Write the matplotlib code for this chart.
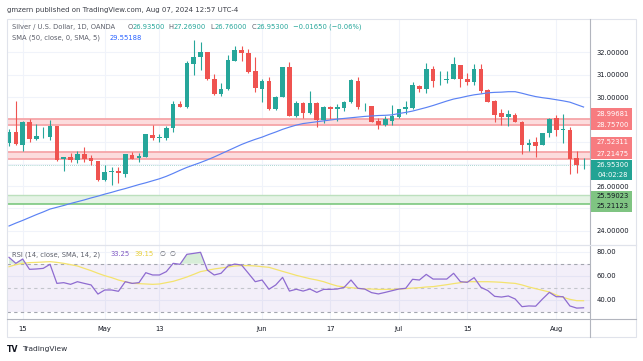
import numpy as np
import pandas as pd
import matplotlib
matplotlib.use("Agg")
import matplotlib.pyplot as plt
from matplotlib.patches import Rectangle

plt.rcParams['font.family'] = ['DejaVu Sans']

# ---------------- data ----------------
dates = pd.bdate_range("2024-04-11", "2024-08-07")

opens = [27.92, 28.45, 27.85, 28.88, 28.10, 28.24, 28.22, 28.70, 27.20, 27.31,
         27.17, 27.44, 27.25, 27.13, 26.26, 26.62, 26.68, 26.55, 27.40, 27.25,
         27.32, 28.30, 28.18, 28.15, 28.60, 29.69, 29.57, 31.48, 31.81, 32.01,
         30.83, 30.12, 30.35, 31.63, 32.11, 31.98, 31.17, 30.36, 30.72, 29.46,
         30.02, 31.35, 29.16, 29.75, 29.27, 29.75, 28.97, 29.57, 29.48, 29.52,
         29.76, 30.72, 29.54, 29.60, 28.94, 28.74, 28.92, 29.09, 29.45, 29.49,
         30.50, 30.38, 31.24, 30.75, 30.78, 30.81, 31.44, 30.80, 30.66, 31.26,
         30.32, 29.84, 29.27, 29.12, 29.19, 28.89, 27.85, 27.98, 27.85, 28.40,
         29.04, 28.53, 28.52, 27.25, 26.935]
highs = [28.55, 29.82, 28.94, 29.03, 28.77, 28.65, 28.97, 28.72, 27.32, 27.47,
         27.58, 27.74, 27.40, 27.14, 26.96, 26.87, 26.87, 27.45, 27.52, 27.47,
         28.34, 28.74, 28.34, 28.71, 29.82, 29.84, 31.62, 32.56, 32.49, 32.02,
         31.02, 30.62, 31.87, 32.31, 32.31, 32.17, 31.78, 30.80, 30.92, 30.05,
         31.36, 31.56, 29.82, 29.79, 30.27, 29.76, 29.60, 29.60, 29.69, 29.84,
         30.81, 30.89, 29.75, 29.61, 29.04, 29.15, 29.64, 29.46, 29.84, 30.66,
         30.53, 31.51, 31.41, 31.18, 31.17, 31.78, 31.45, 31.09, 31.47, 31.47,
         30.35, 29.87, 29.46, 29.42, 29.27, 28.94, 28.10, 28.22, 28.40, 29.04,
         29.19, 29.24, 28.67, 27.58, 27.269]
lows = [27.80, 27.85, 27.59, 27.98, 28.08, 28.18, 28.07, 27.14, 26.66, 27.10,
        27.02, 27.10, 26.95, 26.25, 26.24, 26.04, 26.13, 26.42, 27.22, 27.07,
        27.29, 28.07, 28.00, 28.07, 28.45, 29.54, 29.49, 30.99, 31.21, 30.77,
        30.09, 30.06, 30.32, 31.63, 31.62, 31.06, 30.21, 29.79, 29.42, 29.42,
        30.01, 29.15, 29.12, 29.04, 29.22, 28.67, 28.85, 29.00, 28.92, 29.37,
        29.75, 29.46, 29.39, 28.88, 28.57, 28.70, 28.74, 29.04, 29.22, 29.46,
        30.23, 30.17, 30.47, 30.54, 30.62, 30.80, 30.47, 30.54, 30.54, 30.17,
        29.76, 28.89, 28.74, 28.70, 28.88, 27.44, 27.59, 27.32, 27.85, 28.22,
        28.25, 27.92, 26.54, 26.60, 26.76]
closes = [28.45, 27.88, 28.88, 28.10, 28.25, 28.27, 28.70, 27.17, 27.31, 27.16,
          27.44, 27.23, 27.13, 26.26, 26.62, 26.68, 26.57, 27.44, 27.23, 27.35,
          28.33, 28.15, 28.20, 28.62, 29.69, 29.57, 31.51, 31.81, 32.01, 30.80,
          30.12, 30.36, 31.65, 32.11, 31.96, 31.14, 30.39, 30.72, 29.46, 30.02,
          31.35, 29.16, 29.75, 29.27, 29.75, 28.97, 29.57, 29.46, 29.54, 29.78,
          30.77, 29.54, 29.56, 28.89, 28.74, 29.00, 29.15, 29.45, 29.54, 30.53,
          30.38, 31.24, 30.74, 30.77, 30.80, 31.47, 30.80, 30.69, 31.26, 30.27,
          29.79, 29.19, 29.12, 29.24, 28.89, 27.85, 27.95, 27.82, 28.37, 29.00,
          28.52, 28.55, 27.23, 26.95, 26.953]
sma50 = [24.21, 24.34, 24.46, 24.59, 24.72, 24.84, 24.97, 25.05, 25.13, 25.22,
         25.30, 25.38, 25.47, 25.55, 25.64, 25.72, 25.81, 25.89, 25.98, 26.07,
         26.15, 26.24, 26.33, 26.44, 26.57, 26.71, 26.84, 26.95, 27.06, 27.18,
         27.31, 27.45, 27.59, 27.73, 27.87, 27.99, 28.10, 28.20, 28.32, 28.43,
         28.55, 28.65, 28.74, 28.81, 28.85, 28.89, 28.93, 28.97, 29.01, 29.04,
         29.07, 29.10, 29.13, 29.15, 29.17, 29.18, 29.20, 29.26, 29.31, 29.37,
         29.45, 29.53, 29.62, 29.72, 29.82, 29.91, 29.97, 30.04, 30.10, 30.14,
         30.19, 30.21, 30.22, 30.24, 30.24, 30.17, 30.09, 30.02, 29.97, 29.93,
         29.88, 29.83, 29.77, 29.66, 29.55188]
rsi = [75.3, 70.3, 73.9, 65.3, 65.6, 66.1, 69.5, 53.6, 54.2, 52.8,
       55.0, 53.6, 52.3, 44.7, 48.1, 48.1, 47.0, 55.0, 53.6, 54.2,
       62.5, 60.6, 60.6, 63.4, 70.3, 69.5, 77.8, 78.6, 79.5, 64.7,
       60.6, 62.0, 68.1, 69.7, 68.9, 62.0, 55.0, 56.4, 48.7, 52.3,
       58.6, 47.2, 48.7, 47.2, 48.9, 46.1, 48.6, 48.6, 48.9, 50.3,
       56.4, 49.5, 48.9, 45.9, 44.8, 46.1, 47.5, 48.9, 49.5, 57.0,
       56.4, 61.1, 57.2, 57.2, 57.2, 62.0, 55.0, 54.5, 58.4, 50.3,
       47.6, 42.8, 42.2, 43.1, 40.6, 34.2, 34.8, 34.6, 40.6, 46.1,
       42.5, 42.5, 34.8, 33.0, 33.25]
rsi_ma = [67.5, 69.2, 70.3, 70.9, 71.1, 71.4, 71.7, 71.1, 70.3, 69.2,
          68.1, 66.1, 64.2, 62.0, 60.0, 58.4, 56.4, 55.0, 53.6, 53.4,
          53.1, 52.8, 53.1, 54.2, 55.3, 57.0, 58.9, 61.1, 63.4, 64.5,
          65.6, 66.4, 67.2, 68.1, 68.4, 68.4, 68.1, 67.5, 67.0, 65.3,
          63.6, 62.0, 60.3, 58.9, 57.5, 56.4, 55.0, 53.1, 51.4, 50.6,
          50.0, 49.5, 48.9, 48.9, 48.6, 48.6, 48.6, 48.9, 49.2, 49.7,
          50.0, 50.6, 50.9, 51.7, 52.5, 53.4, 54.2, 55.0, 55.0, 55.0,
          55.0, 54.8, 54.5, 54.0, 53.6, 52.3, 50.6, 49.2, 47.8, 46.4,
          43.9, 42.0, 40.3, 39.2, 39.15]

tick_dates = ["2024-04-15", "2024-05-01", "2024-05-13", "2024-06-03",
              "2024-06-17", "2024-07-01", "2024-07-15", "2024-08-01"]
tick_labels = ["15", "May", "13", "Jun", "17", "Jul", "15", "Aug"]

price_ticks = [24, 25, 26, 27, 28, 29, 30, 31, 32]
price_tick_labels = ["24.00000", "", "26.00000", "", "", "", "30.00000", "31.00000", "32.00000"]

resist_upper = (28.75700, 28.99681)
resist_lower = (27.21475, 27.52311)
support_zone = (25.21123, 25.59023)
last_price = 26.95300
countdown = "04:02:28"

rsi_ticks = [40, 60, 80]

# ---------------- figure ----------------
W, H = 643, 361
fig = plt.figure(figsize=(W / 100, H / 100), dpi=100)
fig.patch.set_facecolor("white")


def rect(x0, y0, x1, y1):
    return [x0 / W, 1 - y1 / H, (x1 - x0) / W, (y1 - y0) / H]


UP, DOWN = "#26A69A", "#EF5350"
GRID = "#F0F3FA"
TXT = "#131722"

x = np.arange(len(dates))
O = np.array(opens); Hh = np.array(highs); L = np.array(lows); C = np.array(closes)
tick_idx = [dates.get_loc(pd.Timestamp(d)) for d in tick_dates]

# px mapping: x_px = 9 + 6.84*i ; left 6.5, right 590
xl = ((6.5 - 9) / 6.84, (590 - 9) / 6.84)

# main pane: y 18.5..245 ; 32 at y=52.5 ; 22.27 px per unit
top_px, bot_px = 18.5, 245
ppu = 22.27
ax = fig.add_axes(rect(6.5, top_px, 590, bot_px))
ax.set_xlim(*xl)
ax.set_ylim(32 - (bot_px - 52.5) / ppu, 32 + (52.5 - top_px) / ppu)
for s in ax.spines.values():
    s.set_visible(False)
ax.set_xticks(tick_idx)
ax.set_xticklabels([])
ax.yaxis.tick_right()
ax.set_yticks(price_ticks)
ax.set_yticklabels(price_tick_labels)
ax.tick_params(axis="both", length=0)
ax.tick_params(axis="y", labelsize=4.9, labelcolor=TXT, pad=4.8)
ax.grid(True, color=GRID, lw=0.8)
ax.set_axisbelow(True)

# zones
for lo, hi in (resist_upper, resist_lower):
    ax.axhspan(lo, hi, facecolor="#FCDCDD", edgecolor="none", zorder=1)
    ax.axhline(hi, color="#F6A5A8", lw=1.3, zorder=1.1)
    ax.axhline(lo, color="#F6A5A8", lw=1.3, zorder=1.1)
ax.axhspan(support_zone[0], support_zone[1], facecolor="#E5F3E5", edgecolor="none", zorder=1)
ax.axhline(support_zone[1], color="#BCE0BD", lw=1.0, zorder=1.1)
ax.axhline(support_zone[0], color="#72C375", lw=1.1, zorder=1.1)
ax.axhline(last_price, color="#8FC9C3", lw=0.6, ls=(0, (1, 1.5)), zorder=1.2)

# candles
cols = [UP if c >= o else DOWN for o, c in zip(O, C)]
ax.vlines(x, L, Hh, colors=cols, lw=0.8, zorder=3)
ax.bar(x, np.maximum(np.abs(C - O), 0.025), bottom=np.minimum(O, C), width=0.68,
       color=cols, linewidth=0, zorder=3)
ax.plot(x, sma50, color="#5B82F4", lw=0.85, zorder=4)

# RSI pane: y 245..319 ; 80 at 251.7 ; 1.2 px per unit
r_top, r_bot = 245, 319
ax2 = fig.add_axes(rect(6.5, r_top, 590, r_bot))
ax2.set_xlim(*xl)
ax2.set_ylim(80 - (r_bot - 251.7) / 1.2, 80 + (251.7 - r_top) / 1.2)
for s in ax2.spines.values():
    s.set_visible(False)
ax2.set_xticks(tick_idx)
ax2.set_xticklabels(tick_labels)
ax2.yaxis.tick_right()
ax2.set_yticks(rsi_ticks)
ax2.set_yticklabels([f"{v:.2f}" for v in rsi_ticks])
ax2.tick_params(axis="both", length=0, labelsize=4.9, labelcolor=TXT)
ax2.tick_params(axis="y", pad=4.8)
ax2.tick_params(axis="x", pad=5.0)
ax2.grid(True, color=GRID, lw=0.8)
ax2.set_axisbelow(True)
ax2.axhspan(30, 70, facecolor="#7E57C2", alpha=0.09, edgecolor="none", zorder=1)
ax2.axhline(70, color="#A3A6AF", lw=0.8, ls=(0, (3, 3)), zorder=1.5)
ax2.axhline(50, color="#C3C5CC", lw=0.8, ls=(0, (3, 3)), zorder=1.5)
ax2.axhline(30, color="#A3A6AF", lw=0.8, ls=(0, (3, 3)), zorder=1.5)
r = np.array(rsi)
ax2.fill_between(x, 70, r, where=r > 70, interpolate=True, color="#4CAF50", alpha=0.22,
                 linewidth=0, zorder=1.6)
ax2.plot(x, rsi_ma, color="#F4E36E", lw=0.9, zorder=3)
ax2.plot(x, rsi, color="#8E6BD0", lw=0.9, zorder=4)

# ---------------- overlay (pixel coords) ----------------
ov = fig.add_axes([0, 0, 1, 1])
ov.set_xlim(0, W)
ov.set_ylim(H, 0)
ov.axis("off")

# frame & separators
ov.add_patch(Rectangle((6.5, 18.5), 636 - 6.5, 337 - 18.5, fill=False,
                       edgecolor="#E0E3EB", lw=0.8))
ov.plot([590, 590], [18.5, 337], color="#B2B5BE", lw=0.8)
ov.plot([6.5, 636], [245, 245], color="#E0E3EB", lw=0.9)
ov.plot([6.5, 636], [319, 319], color="#B2B5BE", lw=0.8)

FS = 4.9
ov.text(7, 10, "gmzern published on TradingView.com, Aug 07, 2024 12:57 UTC-4",
        fontsize=5.0, color="#3C3F48", va="center", ha="left")

renderer = fig.canvas.get_renderer()


def pair(xp, yp, a, b, ca, cb, fs=FS):
    t = ov.text(xp, yp, a, fontsize=fs, color=ca, va="center", ha="left")
    w = t.get_window_extent(renderer).width
    ov.text(xp + w, yp, b, fontsize=fs, color=cb, va="center", ha="left")


GRAY = "#5D606B"
ov.text(11.7, 26.7, "Silver / U.S. Dollar, 1D, OANDA", fontsize=FS, color=GRAY,
        va="center", ha="left")
pair(127.3, 26.7, "O", f"{opens[-1]:.5f}", GRAY, UP)
pair(168.3, 26.7, "H", f"{highs[-1]:.5f}", GRAY, UP)
pair(210.7, 26.7, "L", f"{lows[-1]:.5f}", GRAY, UP)
pair(251.7, 26.7, "C", f"{closes[-1]:.5f}", GRAY, UP)
chg = closes[-1] - closes[-2]
ov.text(293.3, 26.7, "\u22120.01650 (\u22120.06%)", fontsize=FS, color=UP, va="center", ha="left")

ov.text(11.7, 38, "SMA (50, close, 0, SMA, 5)", fontsize=FS, color=GRAY, va="center", ha="left")
ov.text(109.3, 38, f"{sma50[-1]:.5f}", fontsize=FS, color="#2962FF", va="center", ha="left")

ov.text(11.7, 254.3, "RSI (14, close, SMA, 14, 2)", fontsize=FS, color=GRAY, va="center", ha="left")
ov.text(110, 254.3, f"{rsi[-1]:.2f}", fontsize=FS, color="#7E57C2", va="center", ha="left")
ov.text(134.3, 254.3, f"{rsi_ma[-1]:.2f}", fontsize=FS, color="#E8CF3A", va="center", ha="left")
ov.text(159.3, 254.3, "\u2205", fontsize=FS, color=GRAY, va="center", ha="left")
ov.text(170, 254.3, "\u2205", fontsize=FS, color=GRAY, va="center", ha="left")

# price badges


def badge(cy, label, fc, tc, h=10.8):
    ov.add_patch(Rectangle((590.5, cy - h / 2), 41.5, h, facecolor=fc, edgecolor="none", zorder=5))
    ov.text(596.7, cy, label, fontsize=FS, color=tc, va="center", ha="left", zorder=6)


RED_B = "#F77C80"
badge(113.5, f"{resist_upper[1]:.5f}", RED_B, "white")
badge(124.6, f"{resist_upper[0]:.5f}", RED_B, "white")
badge(142.3, f"{resist_lower[1]:.5f}", RED_B, "white")
badge(153.8, f"{resist_lower[0]:.5f}", RED_B, "white")
ov.add_patch(Rectangle((590.5, 159.8), 41.5, 20.6, facecolor="#22A394", edgecolor="none", zorder=5))
ov.text(596.7, 165, f"{last_price:.5f}", fontsize=FS, color="white", va="center", ha="left", zorder=6)
ov.text(597.5, 175, countdown, fontsize=FS, color="white", va="center", ha="left", zorder=6)
badge(196, f"{support_zone[1]:.5f}", "#7FC482", TXT)
badge(206.2, f"{support_zone[0]:.5f}", "#7FC482", TXT)

# footer logo
ov.text(6.8, 349, "TV", fontsize=5.6, fontweight="bold", color=TXT, va="center", ha="left")
ov.text(21.7, 349, "TradingView", fontsize=5.4, color="#2A2E39", va="center", ha="left")

fig.savefig("out.png", dpi=100, facecolor="white")
